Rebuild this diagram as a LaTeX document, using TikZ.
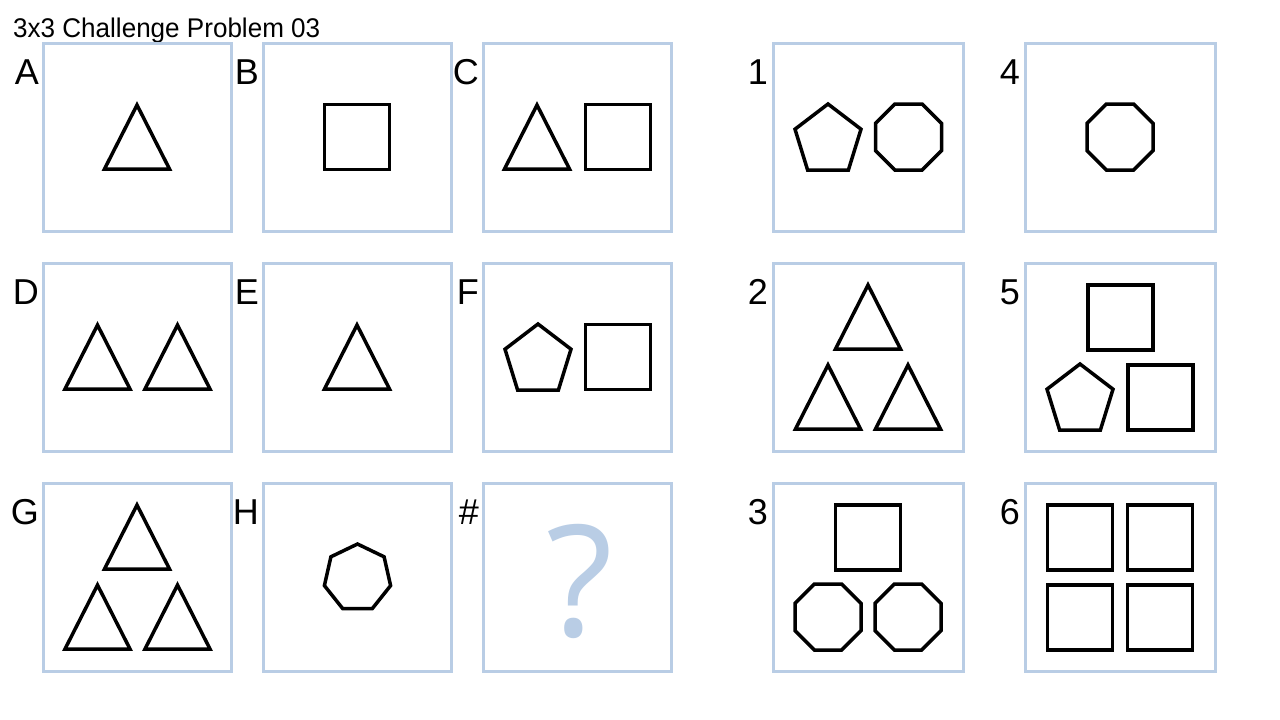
\documentclass[tikz,border=0pt]{standalone}
\usepackage{fontspec}
\setmainfont{Liberation Sans}
\newfontfamily\qfont{Open Sans}
\definecolor{boxblue}{RGB}{185,205,229}
\tikzset{
  panel/.style={draw=boxblue, line width=3pt},
  figline/.style={draw=black, line width=3.5pt, line join=miter},
  plabel/.style={anchor=base east, inner sep=0pt, font=\fontsize{36}{36}\selectfont},
  ttl/.style={anchor=base west, inner sep=0pt, font=\fontsize{27}{27}\selectfont},
}
\newcommand{\mytri}[2]{\draw[figline] (#1,#2-32) -- (#1+32.5,#2+32) -- (#1-32.5,#2+32) -- cycle;}
\newcommand{\mysq}[2]{\draw[figline] (#1-32.5,#2-32.5) rectangle (#1+32.5,#2+32.5);}
\newcommand{\mypent}[2]{\draw[figline] (#1,#2-33) -- (#1+33,#2-7.8) -- (#1+20.4,#2+33) -- (#1-20.4,#2+33) -- (#1-33,#2-7.8) -- cycle;}
\newcommand{\myoct}[2]{\draw[figline] (#1-13.7,#2-33) -- (#1+13.7,#2-33) -- (#1+33,#2-13.7) -- (#1+33,#2+13.7) -- (#1+13.7,#2+33) -- (#1-13.7,#2+33) -- (#1-33,#2+13.7) -- (#1-33,#2-13.7) -- cycle;}
\newcommand{\myhept}[2]{\draw[figline] (#1,#2-34) -- (#1+26.6,#2-21.2) -- (#1+33.1,#2+7.6) -- (#1+14.8,#2+30.6) -- (#1-14.8,#2+30.6) -- (#1-33.1,#2+7.6) -- (#1-26.6,#2-21.2) -- cycle;}
\begin{document}
\begin{tikzpicture}[x=1pt,y=-1pt]
\useasboundingbox[fill=white] (0,0) rectangle (1280,720);
\node[ttl] (title) at (13,37) {\scalebox{0.965}[1]{3x3 Challenge Problem 03}};
% panels: left grid
\foreach \nm/\x/\y in {A/43/43,B/263/43,C/483/43,D/43/263,E/263/263,F/483/263,G/43/483,H/263/483,Q/483/483}{
  \draw[panel] (\x,\y) rectangle (\x+188,\y+188);
}
\foreach \nm/\x/\y in {1/773/43,4/1025/43,2/773/263,5/1025/263,3/773/483,6/1025/483}{
  \draw[panel] (\x,\y) rectangle (\x+190,\y+188);
}
% labels
\node[plabel] (lA) at (39,84) {A};
\node[plabel] (lB) at (259,84) {B};
\node[plabel] (lC) at (479,84) {C};
\node[plabel] (lD) at (39,304) {D};
\node[plabel] (lE) at (259,304) {E};
\node[plabel] (lF) at (479,304) {F};
\node[plabel] (lG) at (39,524) {G};
\node[plabel] (lH) at (259,524) {H};
\node[plabel] (lQ) at (479,524) {\#};
\node[plabel] (l1) at (768,84) {1};
\node[plabel] (l4) at (1020,84) {4};
\node[plabel] (l2) at (768,304) {2};
\node[plabel] (l5) at (1020,304) {5};
\node[plabel] (l3) at (768,524) {3};
\node[plabel] (l6) at (1020,524) {6};
% A
\mytri{137}{137}
% B
\mysq{357}{137}
% C
\mytri{537}{137}
\mysq{618}{137}
% D
\mytri{97.5}{357}
\mytri{177.5}{357}
% E
\mytri{357}{357}
% F
\mypent{538}{357}
\mysq{618}{357}
% G
\mytri{137}{537}
\mytri{97.5}{617}
\mytri{177.5}{617}
% H
\myhept{357.5}{578}
% question mark
\node[inner sep=0pt, text=boxblue, font=\qfont\fontsize{155}{155}\selectfont] (qm) at (579.5,581) {?};
% 1
\mypent{828}{137}
\myoct{908.5}{137}
% 4
\myoct{1120}{137}
% 2
\mytri{868}{317}
\mytri{828}{397}
\mytri{908}{397}
% 5
\mysq{1120.5}{317.5}
\mypent{1080}{397}
\mysq{1160.5}{397.5}
% 3
\mysq{868}{537.5}
\myoct{828}{617}
\myoct{908}{617}
% 6
\mysq{1080}{537.5}
\mysq{1160}{537.5}
\mysq{1080}{617.5}
\mysq{1160}{617.5}
\end{tikzpicture}
\end{document}
